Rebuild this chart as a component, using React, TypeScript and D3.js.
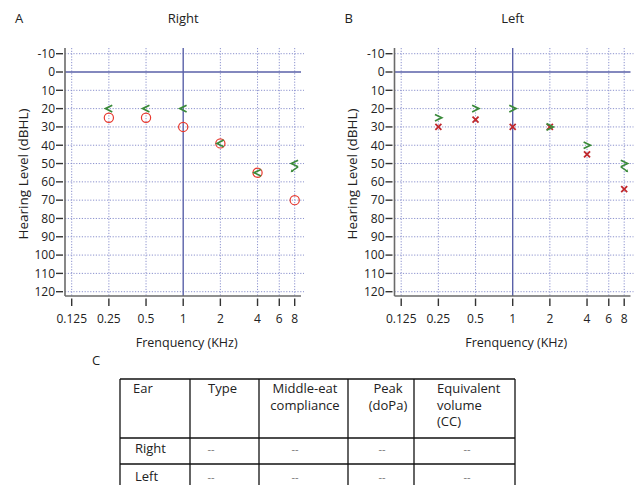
import React from "react";
import * as d3 from "d3";

const freqTicks = [0.125, 0.25, 0.5, 1, 2, 4, 6, 8];
const freqLabels = ["0.125", "0.25", "0.5", "1", "2", "4", "6", "8"];
const dbTicks = [-10, 0, 10, 20, 30, 40, 50, 60, 70, 80, 90, 100, 110, 120];
const testFreqs = [0.25, 0.5, 1, 2, 4, 8];
const rightAir = [25, 25, 30, 39, 55, 70];
const rightBone = [20, 20, 20, 39, 55, 50];
const rightBoneNoResp = [false, false, false, false, false, true];
const leftAir = [30, 26, 30, 30, 45, 64];
const leftBone = [25, 20, 20, 30, 40, 50];
const leftBoneNoResp = [false, false, false, false, false, true];

const tableHeaders = [
  ["Ear"],
  ["Type"],
  ["Middle-eat", "compliance"],
  ["Peak", "(doPa)"],
  ["Equivalent", "volume", "(CC)"],
];
const tableRows = [
  ["Right", "--", "--", "--", "--"],
  ["Left", "--", "--", "--", "--"],
];

const FONT = "'Open Sans', 'Noto Sans', sans-serif";
const GRID = "#7f86c8";
const SOLID = "#5a61a9";
const AXIS = "#6a6a6a";
const GREEN = "#3a8a3a";
const RED = "#e8392e";
const XRED = "#c0282d";

type PanelProps = {
  ox: number;
  letter: string;
  title: string;
  side: "right" | "left";
  air: number[];
  bone: number[];
  noResp: boolean[];
};

function Panel({ ox, letter, title, side, air, bone, noResp }: PanelProps) {
  const x = d3.scaleLog().base(2).domain([0.125, 8]).range([ox + 71.7, ox + 294.7]);
  const y = d3.scaleLinear().domain([-10, 120]).range([53.7, 291.7]);
  const axisX = ox + 65;
  const rightX = ox + 301;
  const top = 48;
  const bottom = 296;
  const cx = x(1);

  const boneMark = (f: number, v: number, nr: boolean, i: number) => {
    const px = x(f);
    const py = y(v);
    const s = side === "right" ? 1 : -1; // right: "<", left: ">"
    const w = 3.4;
    const h = 3.3;
    const d = `M${px + s * w},${py - h} L${px - s * w},${py} L${px + s * w},${py + h}`;
    return (
      <g key={"b" + i}>
        <path d={d} fill="none" stroke={GREEN} strokeWidth={1.7} />
        {nr && (
          <g>
            <line
              x1={px + s * w}
              y1={py + h}
              x2={px - s * 2.5}
              y2={py + h + 4}
              stroke={GREEN}
              strokeWidth={1.4}
            />
            <path
              d={`M${px - s * 4},${py + h + 5.5} L${px - s * 1.2},${py + h + 5} L${px - s * 3.2},${py + h + 2.4} Z`}
              fill={GREEN}
            />
          </g>
        )}
      </g>
    );
  };

  return (
    <g>
      <text x={ox + 15} y={23} fontSize={13} fontFamily={FONT} fill="#222">
        {letter}
      </text>
      <text x={cx} y={23} fontSize={13} fontFamily={FONT} fill="#222" textAnchor="middle">
        {title}
      </text>
      {/* horizontal grid */}
      {dbTicks.map((t) =>
        t === 0 ? null : (
          <line
            key={"h" + t}
            x1={axisX}
            x2={rightX + 3}
            y1={y(t)}
            y2={y(t)}
            stroke={GRID}
            strokeWidth={0.9}
            strokeDasharray="1.2,1.6"
          />
        )
      )}
      {/* vertical grid */}
      {freqTicks.map((f) =>
        f === 1 ? null : (
          <line
            key={"v" + f}
            x1={x(f)}
            x2={x(f)}
            y1={top}
            y2={bottom}
            stroke={GRID}
            strokeWidth={0.9}
            strokeDasharray="1.2,1.6"
          />
        )
      )}
      <line x1={axisX} x2={rightX} y1={y(0)} y2={y(0)} stroke={SOLID} strokeWidth={1.4} />
      <line x1={cx} x2={cx} y1={top} y2={bottom} stroke={SOLID} strokeWidth={1.4} />
      {/* axes */}
      <line x1={axisX} x2={axisX} y1={top} y2={bottom} stroke={AXIS} strokeWidth={1.6} />
      <line x1={axisX} x2={rightX} y1={bottom} y2={bottom} stroke={AXIS} strokeWidth={1.6} />
      {/* y ticks */}
      {dbTicks.map((t) => (
        <g key={"yt" + t}>
          <line x1={axisX - 9} x2={axisX - 2} y1={y(t)} y2={y(t)} stroke="#333" strokeWidth={1.4} />
          <text
            x={axisX - 10}
            y={y(t) + 4.3}
            fontSize={12}
            fontFamily={FONT}
            fill="#222"
            textAnchor="end"
          >
            {t}
          </text>
        </g>
      ))}
      {/* x ticks */}
      {freqTicks.map((f, i) => (
        <g key={"xt" + f}>
          <line x1={x(f)} x2={x(f)} y1={298.5} y2={306} stroke="#333" strokeWidth={1.4} />
          <text x={x(f)} y={322.5} fontSize={12} fontFamily={FONT} fill="#222" textAnchor="middle">
            {freqLabels[i]}
          </text>
        </g>
      ))}
      <text x={cx + 3.5} y={346.5} fontSize={12.5} fontFamily={FONT} fill="#222" textAnchor="middle">
        Frenquency (KHz)
      </text>
      <text
        transform={`translate(${ox + 27.5},${174}) rotate(-90)`}
        fontSize={13.5}
        fontFamily={FONT}
        fill="#222"
        textAnchor="middle"
      >
        Hearing Level (dBHL)
      </text>
      {/* air markers */}
      {testFreqs.map((f, i) =>
        side === "right" ? (
          <circle key={"a" + i} cx={x(f)} cy={y(air[i])} r={4.6} fill="none" stroke={RED} strokeWidth={1.2} />
        ) : (
          <g key={"a" + i} stroke={XRED} strokeWidth={1.8}>
            <line x1={x(f) - 3} x2={x(f) + 3} y1={y(air[i]) - 3} y2={y(air[i]) + 3} />
            <line x1={x(f) - 3} x2={x(f) + 3} y1={y(air[i]) + 3} y2={y(air[i]) - 3} />
          </g>
        )
      )}
      {testFreqs.map((f, i) => boneMark(f, bone[i], noResp[i], i))}
    </g>
  );
}

function Table() {
  const cols = [120, 190, 259, 348, 414, 515];
  const rows = [379, 438, 464, 495];
  const headerAnchors: { x: number; anchor: "start" | "middle" }[] = [
    { x: 133, anchor: "start" },
    { x: 208, anchor: "start" },
    { x: 305, anchor: "middle" },
    { x: 388, anchor: "middle" },
    { x: 437, anchor: "start" },
  ];
  const cellX = [135, 211, 295, 382, 467];
  return (
    <g fontFamily={FONT} fontSize={13} fill="#222">
      <text x={92} y={365} fontSize={13}>
        C
      </text>
      {rows.map((r, i) => (
        <line key={"r" + i} x1={cols[0]} x2={cols[5]} y1={r} y2={r} stroke="#111" strokeWidth={1.3} />
      ))}
      {cols.map((c, i) => (
        <line key={"c" + i} x1={c} x2={c} y1={rows[0]} y2={rows[3]} stroke="#111" strokeWidth={1.3} />
      ))}
      {tableHeaders.map((lines, ci) =>
        lines.map((ln, li) => (
          <text
            key={"h" + ci + li}
            x={headerAnchors[ci].x}
            y={393 + li * 16.5}
            textAnchor={headerAnchors[ci].anchor}
          >
            {ln}
          </text>
        ))
      )}
      {tableRows.map((row, ri) =>
        row.map((cell, ci) => (
          <text
            key={"c" + ri + ci}
            x={ci === 0 ? cellX[0] : cellX[ci]}
            y={ri === 0 ? 453 : 481}
            textAnchor={ci === 0 ? "start" : "middle"}
            fill={ci === 0 ? "#222" : "#777"}
            fontSize={ci === 0 ? 13 : 11}
          >
            {cell}
          </text>
        ))
      )}
    </g>
  );
}

export default function App() {
  return (
    <svg
      width={636}
      height={485}
      viewBox="0 0 636 485"
      style={{ position: "absolute", left: 0, top: 0, background: "#fff" }}
    >
      <rect width={636} height={485} fill="#fff" />
      <Panel ox={0} letter="A" title="Right" side="right" air={rightAir} bone={rightBone} noResp={rightBoneNoResp} />
      <Panel ox={329.5} letter="B" title="Left" side="left" air={leftAir} bone={leftBone} noResp={leftBoneNoResp} />
      <Table />
    </svg>
  );
}
